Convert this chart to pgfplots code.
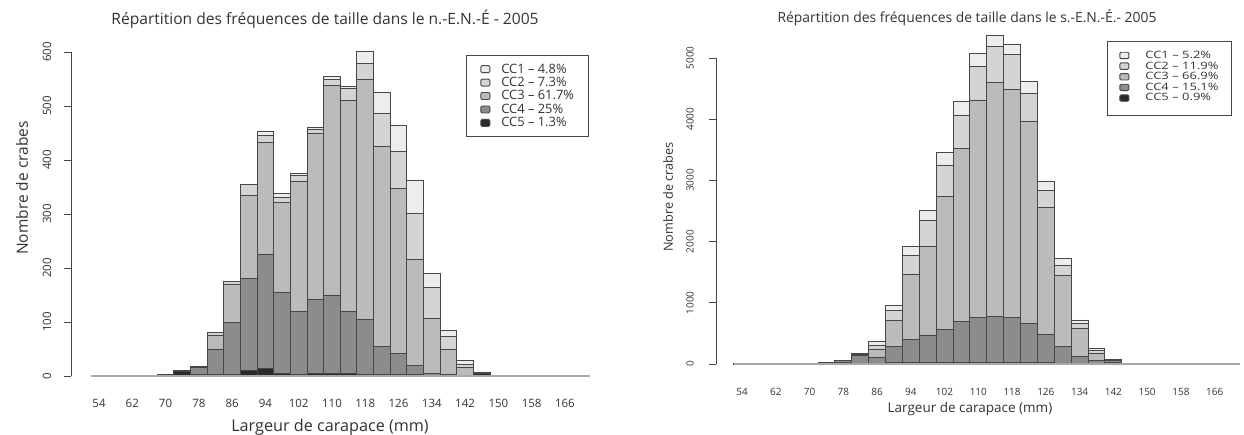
\documentclass[border=0pt]{standalone}
\usepackage{pgfplots}
\pgfplotsset{compat=1.18}
\usepackage{pgfplotstable}
\usepackage{graphicx}
\usepackage{fontspec}
\setmainfont{Open Sans}
\definecolor{ccA}{HTML}{EDEDED}
\definecolor{ccB}{HTML}{D4D4D4}
\definecolor{ccC}{HTML}{BBBBBB}
\definecolor{ccD}{HTML}{8C8C8C}
\definecolor{ccE}{HTML}{2A2A2A}
\definecolor{edge}{HTML}{474747}
\definecolor{base}{HTML}{A8A8A8}
\definecolor{txt}{HTML}{333333}
\newcommand{\sq}[1]{\scalebox{1}[0.78]{#1}}

\pgfplotstableread{
mm c5 c4 c3 c2 c1
54 0 0 0 0 0
58 0 0 0 0 0
62 0 0 0 0 0
66 0 0 0 0 0
70 0 2 0 0 0
74 8 3 0 0 0
78 2 14 2 0 0
82 2 48 26 5 0
86 2 97 71 5 0
90 10 171 154 19 0
94 14 212 207 13 7
98 5 149 168 8 8
102 3 116 241 12 4
106 5 137 307 7 5
110 4 146 388 11 5
114 5 114 391 22 4
118 3 102 444 29 23
122 2 53 371 60 40
126 2 39 306 68 49
130 3 17 196 85 62
134 0 5 102 57 26
138 0 2 47 25 11
142 0 0 15 7 6
146 5 1 0 0 0
150 0 0 0 0 0
154 0 0 0 1 0
158 0 0 0 0 0
162 0 0 0 0 0
166 0 0 0 0 0
170 0 0 0 0 0
}\Ldata

\pgfplotstableread{
mm c5 c4 c3 c2 c1
54 5 0 0 0 0
58 5 0 0 0 0
62 5 0 0 0 0
66 8 0 0 0 0
70 12 0 0 0 0
74 18 0 0 0 0
78 30 25 0 0 0
82 15 120 25 10 0
86 15 100 120 70 60
90 20 263 436 163 82
94 25 383 1063 299 147
98 25 449 1443 436 163
102 30 536 2168 518 201
106 30 662 2832 545 228
110 30 727 3557 544 218
114 30 754 3813 588 180
118 30 727 3736 572 164
122 25 640 3295 463 190
126 20 465 2069 278 147
130 15 268 1171 153 120
134 10 110 463 82 54
138 10 40 130 40 30
142 30 20 20 5 0
146 10 5 0 0 0
150 3 0 0 0 0
154 0 0 0 0 0
158 0 0 0 0 0
162 0 0 0 0 0
166 0 0 0 0 0
170 0 0 0 0 0
}\Rdata

\pgfplotsset{
  crabs/.style={
    scale only axis, axis lines*=left, ybar stacked, bar width=4, clip=false,
    x axis line style={draw=none}, xtick style={draw=none},
    y axis line style={draw=edge, line width=0.8pt},
    ytick style={draw=edge, line width=0.8pt},
    tick align=outside, major tick length=7pt,
    xtick={54,62,...,166},
    /pgf/number format/assume math mode=true,
    /pgf/number format/1000 sep={},
    ymin=0,
    every axis plot/.append style={draw=edge, line width=0.9pt},
    legend cell align=left, reverse legend,
    tick label style={text=txt},
    label style={text=txt},
    title style={text=txt},
  }
}

\begin{document}
\begin{tikzpicture}
\useasboundingbox (0pt,0pt) rectangle (1244pt,435pt);
\begin{axis}[crabs, at={(71pt,59pt)}, anchor=south west,
  width=549pt, height=324pt,
  xmin=47.27, xmax=179.24, ymax=600, ytick={0,100,...,600},
  tick label style={font=\fontsize{11.5}{13}\selectfont},
  xticklabel style={anchor=center, yshift=-20pt},
  yticklabel style={rotate=90, anchor=center, yshift=17pt},
  title={Répartition des fréquences de taille dans le n.-E.N.-É - 2005},
  title style={at={(axis description cs:0.4627,1.0833)}, anchor=center, font=\fontsize{15.6}{17}\selectfont},
  xlabel={Largeur de carapace (mm)},
  xlabel style={at={(axis description cs:0.4718,-0.1574)}, anchor=center, font=\fontsize{16.2}{18}\selectfont},
  ylabel={Nombre de crabes},
  ylabel style={at={(axis description cs:-0.0893,0.5802)}, anchor=center, font=\fontsize{15.5}{17}\selectfont},
  legend image code/.code={\draw[#1, rounded corners=1.2pt] (2pt,-3.5pt) rectangle (11pt,3.5pt); \path (0pt,0pt) (20pt,0pt);},
  legend style={at={(axis description cs:0.7195,0.9907)}, anchor=north west, draw=edge, line width=0.8pt,
    font=\fontsize{12.9}{14}\selectfont, text=txt, inner xsep=12pt, inner ysep=8.3pt,
    nodes={inner xsep=2pt, inner ysep=0pt}, row sep=2.6pt},
]
\draw[base, line width=1.6pt] (axis cs:52,0) -- (axis cs:172,0);
\addplot[fill=ccE] table[x=mm,y=c5] {\Ldata};
\addplot[fill=ccD] table[x=mm,y=c4] {\Ldata};
\addplot[fill=ccC] table[x=mm,y=c3] {\Ldata};
\addplot[fill=ccB] table[x=mm,y=c2] {\Ldata};
\addplot[fill=ccA] table[x=mm,y=c1] {\Ldata};
\legend{CC5 -- 1.3\%\hspace{17pt}, CC4 -- 25\%\hspace{17pt}, CC3 -- 61.7\%\hspace{17pt}, CC2 -- 7.3\%\hspace{17pt}, CC1 -- 4.8\%\hspace{17pt}}
\end{axis}

\begin{axis}[crabs, at={(716pt,71pt)}, anchor=south west,
  width=524pt, height=306pt,
  xmin=47.84, xmax=172.01, ymax=5000, ytick={0,1000,...,5000},
  tick label style={font=\fontsize{10}{12}\selectfont},
  xticklabel style={anchor=center, yshift=-21pt},
  yticklabel style={rotate=90, anchor=center, yshift=19pt},
  title={Répartition des fréquences de taille dans le s.-E.N.-É.- 2005},
  title style={at={(axis description cs:0.479,1.1111)}, anchor=center, font=\fontsize{13.9}{15}\selectfont},
  xlabel={Largeur de carapace (mm)},
  xlabel style={at={(axis description cs:0.4847,-0.147)}, anchor=center, font=\fontsize{13.5}{15}\selectfont},
  ylabel={Nombre de crabes},
  ylabel style={at={(axis description cs:-0.0916,0.5458)}, anchor=center, font=\fontsize{12.7}{14}\selectfont},
  legend image code/.code={\draw[#1, rounded corners=1.2pt] (1pt,-3.2pt) rectangle (10pt,3.2pt); \path (0pt,0pt) (24pt,0pt);},
  legend style={at={(axis description cs:0.7462,1.0556)}, anchor=north west, draw=edge, line width=0.8pt,
    font=\fontsize{13}{13}\selectfont, text=txt, inner xsep=11pt, inner ysep=9.7pt,
    nodes={inner xsep=2pt, inner ysep=0pt}, row sep=1.8pt},
]
\draw[base, line width=1.6pt] (axis cs:52,0) -- (axis cs:172,0);
\addlegendimage{empty legend}\addlegendentry{\rule[-14pt]{0pt}{0pt}}
\addplot[fill=ccE] table[x=mm,y=c5] {\Rdata};
\addplot[fill=ccD] table[x=mm,y=c4] {\Rdata};
\addplot[fill=ccC] table[x=mm,y=c3] {\Rdata};
\addplot[fill=ccB] table[x=mm,y=c2] {\Rdata};
\addplot[fill=ccA] table[x=mm,y=c1] {\Rdata};
\addlegendentry{\sq{CC5 -- 0.9\%}\hspace{9pt}}
\addlegendentry{\sq{CC4 -- 15.1\%}\hspace{9pt}}
\addlegendentry{\sq{CC3 -- 66.9\%}\hspace{9pt}}
\addlegendentry{\sq{CC2 -- 11.9\%}\hspace{9pt}}
\addlegendentry{\sq{CC1 -- 5.2\%}\hspace{9pt}}
\end{axis}
\end{tikzpicture}
\end{document}
